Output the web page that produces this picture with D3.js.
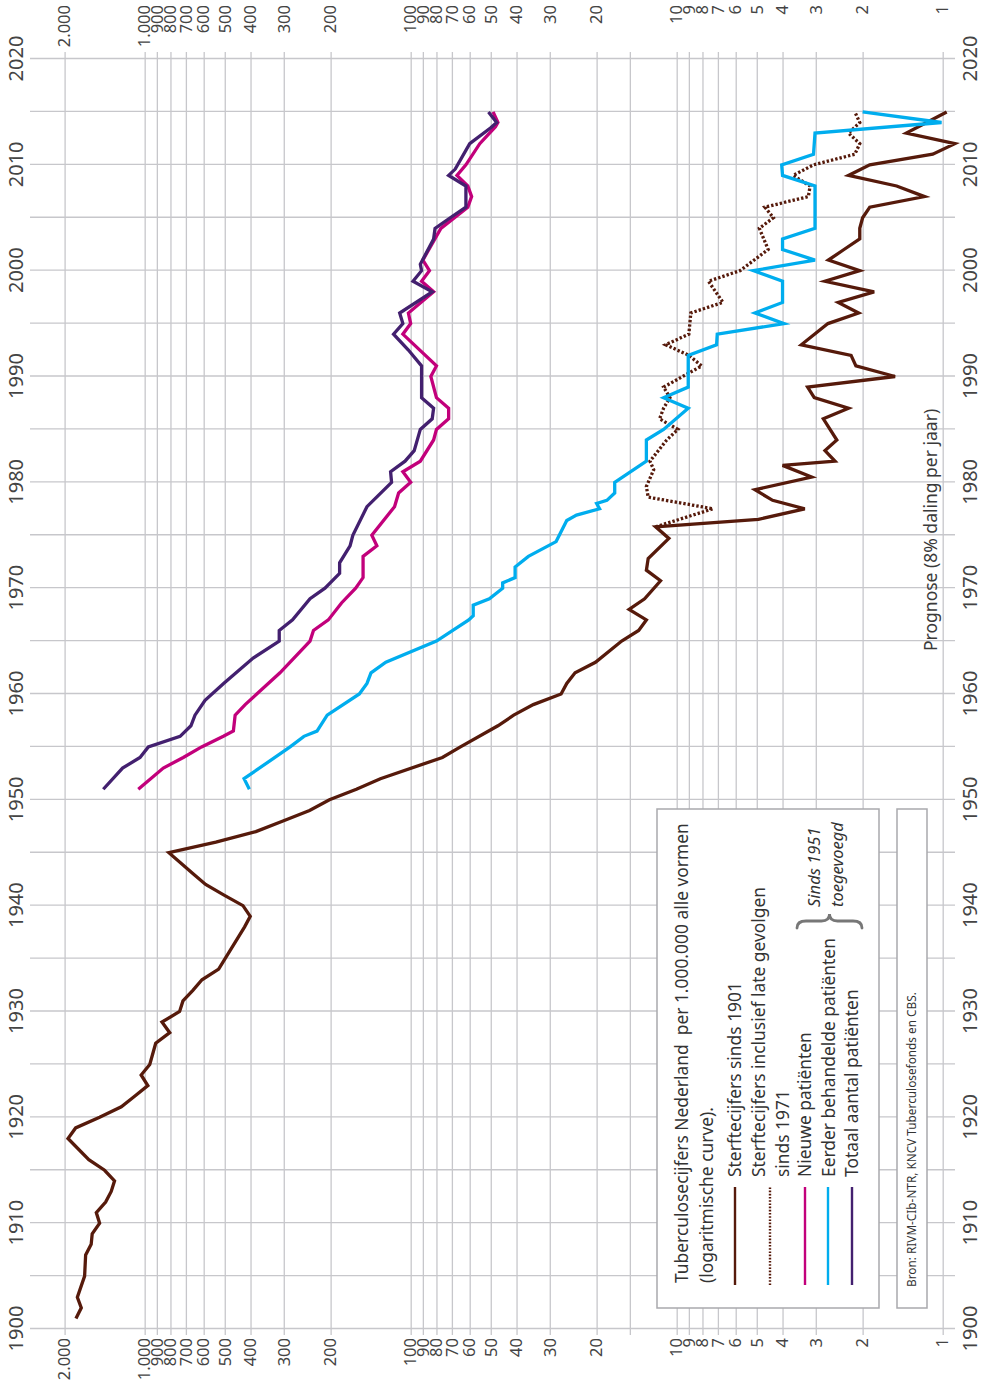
<!DOCTYPE html>
<html>
<head>
<meta charset="utf-8">
<script src="https://cdn.jsdelivr.net/npm/d3@7"></script>
<style>
  body { margin: 0; background: #fff; }
  svg { display: block; font-family: "Noto Sans", "Open Sans", sans-serif; }
</style>
</head>
<body>
<div id="chart"></div>
<script>
// ---- data (per 1.000.000) ----
var waardeTicks = [2000, 1000, 900, 800, 700, 600, 500, 400, 300, 200,
    100, 90, 80, 70, 60, 50, 40, 30, 20, 10, 9, 8, 7, 6, 5, 4, 3, 2, 1]
var extraLijnen = [15]
var jaarTicks = d3.range(1900, 2021, 10)
var jaarLijnen = d3.range(1900, 2021, 5)

// Sterftecijfers sinds 1901
var sterfte = [[1901, 1813], [1902, 1731], [1903, 1791], [1905, 1682], [1907, 1667], [1908, 1589],
    [1909, 1575], [1910, 1477], [1911, 1520], [1912, 1402], [1913, 1336], [1914, 1298], [1915, 1415],
    [1916, 1622], [1918, 1942], [1919, 1818], [1920, 1477], [1921, 1224], [1922, 1091], [1923, 973],
    [1924, 1031], [1925, 957], [1927, 909], [1928, 805], [1929, 861], [1930, 739], [1931, 718],
    [1932, 659], [1933, 609], [1934, 527], [1938, 421], [1939, 401], [1940, 427], [1941, 503],
    [1942, 590], [1943, 656], [1945, 811], [1946, 540], [1947, 382], [1948, 302], [1949, 240],
    [1950, 202], [1951, 160], [1952, 130], [1954, 76], [1955, 65], [1957, 47], [1958, 41],
    [1959, 34.6], [1960, 27.2], [1961, 25.9], [1962, 24.1], [1963, 20.2], [1965, 16.1], [1966, 13.9],
    [1967, 13.0], [1968, 15.1], [1969, 13.2], [1970.7, 11.5], [1971.7, 13.0], [1972.8, 12.8],
    [1974.7, 10.7], [1975.8, 12.0], [1976.5, 4.93], [1977.5, 3.30], [1978.3, 4.36], [1979.3, 5.08],
    [1980.5, 3.11], [1981.6, 4.0], [1982, 2.54], [1983, 2.77], [1984, 2.50], [1986, 2.81],
    [1987, 2.26], [1988, 3.04], [1989, 3.22], [1990, 1.51], [1991, 2.12], [1992, 2.21], [1993, 3.4],
    [1995, 2.7], [1996, 2.07], [1997, 2.47], [1998, 1.81], [1999, 2.77], [2000, 2.05], [2001, 2.69],
    [2002, 2.35], [2003, 2.05], [2004, 2.05], [2005, 2.0], [2006, 1.88], [2007, 1.17], [2008, 1.49],
    [2009, 2.26], [2010, 1.88], [2011, 1.09], [2012, 0.90], [2013, 1.37], [2015, 0.966]]

// Sterftecijfers inclusief late gevolgen
var sterfteLaat = [[1975.8, 12.0], [1977.5, 7.3], [1978.6, 12.8], [1979.6, 13.0], [1981.2, 12.2],
    [1982, 12.6], [1984, 10.9], [1985, 9.9], [1986, 11.6], [1987, 11.2], [1988, 10.6], [1989, 11.2],
    [1991, 8.05], [1992, 9.0], [1993, 11.0], [1994, 9.0], [1996, 8.85], [1997, 6.7], [1999, 7.6],
    [2000, 5.78], [2002, 4.53], [2004, 4.89], [2005, 4.33], [2006, 4.66], [2007, 3.2], [2008, 3.15],
    [2009, 3.65], [2010, 3.06], [2011, 2.14], [2012, 2.05], [2013, 2.26], [2014, 2.05], [2015, 2.14]]

// Nieuwe patiënten
var nieuwe = [[1951, 1057], [1953, 851], [1954, 716], [1955, 611], [1956, 506], [1956.5, 464],
    [1958, 457], [1959, 419], [1962, 310], [1965, 239], [1966, 232], [1967, 204], [1968.6, 182],
    [1970, 161], [1971, 151], [1973, 151], [1974, 134], [1975, 140], [1977.7, 115], [1979, 111],
    [1980, 100], [1981, 107], [1982, 92], [1984, 82], [1985, 80], [1986, 72], [1987, 72], [1988, 80],
    [1990, 84], [1991, 80], [1994, 107], [1995, 100], [1996, 102], [1998, 82], [1999, 91], [2000, 85],
    [2001, 90], [2004, 77], [2006, 61], [2007, 59], [2008, 61], [2009, 67], [2010, 62], [2012, 55],
    [2013.6, 48], [2014, 47], [2015, 49]]

// Eerder behandelde patiënten
var eerder = [[1951, 404], [1952, 423], [1955, 284], [1956, 252], [1956.5, 225], [1958, 206],
    [1960, 156], [1961, 146], [1962, 141], [1963, 124], [1965, 80], [1967, 60.5], [1967.4, 58.2],
    [1968.4, 58.2], [1969, 50.6], [1970, 45.1], [1970.5, 45.1], [1971, 40.5], [1972, 40.5],
    [1973, 36.1], [1974.4, 28.4], [1976.4, 25.9], [1976.9, 23.8], [1977.5, 19.5], [1978, 20],
    [1978.3, 18.3], [1979, 17.1], [1980, 17.1], [1982, 13.0], [1984, 13.0], [1985, 11.2], [1987, 9.05],
    [1988, 11.2], [1989, 9.05], [1992, 9.05], [1993, 7.08], [1994, 7.04], [1995, 3.95], [1996, 5.08],
    [1997, 4.0], [1999, 4.0], [2000, 5.15], [2001, 3.02], [2002, 4.0], [2003, 4.0], [2004, 3.02],
    [2008, 3.02], [2009, 4.0], [2010, 4.03], [2011, 3.06], [2013, 3.02], [2014, 1.01], [2015, 2.0]]

// Totaal aantal patiënten
var totaal = [[1951, 1431], [1953, 1211], [1954, 1041], [1955, 969], [1956, 736], [1957, 670],
    [1958, 647], [1959.4, 593], [1961, 505], [1963.4, 391], [1965, 312], [1966, 312], [1967, 278],
    [1969, 239], [1970, 210], [1971.4, 185], [1972.4, 185], [1974, 169], [1975, 165], [1977.7, 146],
    [1980, 118], [1981, 119], [1982, 105], [1983, 97], [1985, 92], [1986, 83], [1987, 82], [1988, 91],
    [1991, 91], [1992.5, 102], [1994, 116], [1995, 107], [1996, 110], [1998, 83], [1999, 98],
    [2000, 91], [2000.6, 92], [2003, 82], [2004, 81], [2005, 71], [2006, 62], [2008, 62], [2009, 72],
    [2009.6, 68], [2012, 60], [2013.5, 50], [2014, 47.5], [2015, 51]]

var legendaTitel = ["Tuberculosecijfers Nederland  per 1.000.000 alle vormen", "(logaritmische curve)."]
var legendaTekst = ["Sterftecijfers sinds 1901", "Sterftecijfers inclusief late gevolgen", "sinds 1971",
    "Nieuwe patiënten", "Eerder behandelde patiënten", "Totaal aantal patiënten"]
var bron = "Bron: RIVM-CIb-NTR, KNCV Tuberculosefonds en CBS."
var prognose = "Prognose (8% daling per jaar)"

// ---- drawing ----
var W = 987, H = 1392
var kleur = { bruin: "#561a0b", magenta: "#c2007b", cyaan: "#00adee", paars: "#43206f" }

var svg = d3.select("#chart").append("svg")
    .attr("width", W)
    .attr("height", H)

// the chart is an ordinary year/value chart turned a quarter counter-clockwise
var g = svg.append("g")
    .attr("transform", "translate(0," + H + ") rotate(-90)")

var x = d3.scaleLinear().domain([1900, 2020]).range([63, 1333])
var y = d3.scaleLog().domain([1, 2000]).range([942.7, 64.6])

var nlFormat = function(d) { return d3.format(",")(d).replace(/,/g, ".") }

// value gridlines
g.append("g")
    .attr("class", "grid")
    .attr("transform", "translate(57,0)")
    .call(d3.axisRight(y).tickValues(waardeTicks.concat(extraLijnen)).tickSize(1283).tickFormat(""))

// year gridlines
g.append("g")
    .attr("class", "grid")
    .attr("transform", "translate(0,30)")
    .call(d3.axisBottom(x).tickValues(jaarLijnen).tickSize(925).tickFormat(""))

g.selectAll(".grid .domain").remove()
g.selectAll(".grid line")
    .attr("stroke", "#c7c7cb")
    .attr("stroke-width", 1.3)

// value labels on both ends
var waardeAs = d3.axisLeft(y).tickValues(waardeTicks).tickSize(0).tickPadding(0).tickFormat(nlFormat)
g.append("g").attr("class", "lab").attr("transform", "translate(54,0)").call(waardeAs)
g.append("g").attr("class", "lab").attr("transform", "translate(1387,0)").call(waardeAs)

// year labels on both sides
var jaarAs = d3.axisBottom(x).tickValues(jaarTicks).tickSize(0).tickPadding(0).tickFormat(d3.format("d"))
g.append("g").attr("class", "lab jaar").attr("transform", "translate(0,9)").call(jaarAs)
g.append("g").attr("class", "lab jaar").attr("transform", "translate(0,963)").call(jaarAs)

g.selectAll(".lab .domain").remove()
g.selectAll(".lab text")
    .attr("fill", "#444")
    .style("font-family", "'Noto Sans', sans-serif")
    .style("font-size", "16.5px")
g.selectAll(".jaar text").style("font-size", "20px")

// series
var lijn = d3.line()
    .x(function(d) { return x(d[0]) })
    .y(function(d) { return y(d[1]) })

var series = [
    { data: sterfte, kleur: kleur.bruin, dash: null },
    { data: sterfteLaat, kleur: kleur.bruin, dash: "2.4,2" },
    { data: eerder, kleur: kleur.cyaan, dash: null },
    { data: nieuwe, kleur: kleur.magenta, dash: null },
    { data: totaal, kleur: kleur.paars, dash: null }
]

g.selectAll(".serie")
    .data(series)
    .enter()
    .append("path")
    .attr("class", "serie")
    .attr("d", function(d) { return lijn(d.data) })
    .attr("fill", "none")
    .attr("stroke", function(d) { return d.kleur })
    .attr("stroke-width", 3.3)
    .attr("stroke-dasharray", function(d) { return d.dash })

g.append("text")
    .attr("x", 741)
    .attr("y", 931)
    .attr("dy", "0.35em")
    .attr("fill", "#3a3a3a")
    .style("font-size", "17.5px")
    .text(prognose)

// legend
var leg = g.append("g")
leg.append("rect")
    .attr("x", 84).attr("y", 657)
    .attr("width", 499).attr("height", 222)
    .attr("fill", "#fff")
    .attr("stroke", "#a9a9ad")
    .attr("stroke-width", 1.5)

leg.selectAll(".titel")
    .data(legendaTitel)
    .enter()
    .append("text")
    .attr("x", 109)
    .attr("y", function(d, i) { return 682 + i * 25 })
    .attr("dy", "0.35em")
    .attr("fill", "#333")
    .style("font-size", "17.4px")
    .style("white-space", "pre")
    .text(function(d) { return d })

leg.selectAll(".item")
    .data(legendaTekst)
    .enter()
    .append("text")
    .attr("x", 215)
    .attr("y", function(d, i) { return [735, 759, 783, 805, 829, 852][i] })
    .attr("dy", "0.35em")
    .attr("fill", "#333")
    .style("font-size", "17.4px")
    .text(function(d) { return d })

var stalen = [
    { y: 735, kleur: kleur.bruin, dash: null },
    { y: 770, kleur: kleur.bruin, dash: "1.6,1.6" },
    { y: 805, kleur: kleur.magenta, dash: null },
    { y: 828, kleur: kleur.cyaan, dash: null },
    { y: 852, kleur: kleur.paars, dash: null }
]
leg.selectAll(".staal")
    .data(stalen)
    .enter()
    .append("line")
    .attr("x1", 107).attr("x2", 205)
    .attr("y1", function(d) { return d.y })
    .attr("y2", function(d) { return d.y })
    .attr("stroke", function(d) { return d.kleur })
    .attr("stroke-width", 2.4)
    .attr("stroke-dasharray", function(d) { return d.dash })

// brace + "Sinds 1951 toegevoegd"
var bx = 464, y1 = 797, y2 = 862, ym = (y1 + y2) / 2
leg.append("path")
    .attr("d", "M" + bx + "," + y1 + " Q" + (bx + 7) + "," + y1 + " " + (bx + 7) + "," + (y1 + 9) +
        " L" + (bx + 7) + "," + (ym - 8) + " Q" + (bx + 7) + "," + ym + " " + (bx + 14) + "," + ym +
        " Q" + (bx + 7) + "," + ym + " " + (bx + 7) + "," + (ym + 8) +
        " L" + (bx + 7) + "," + (y2 - 9) + " Q" + (bx + 7) + "," + y2 + " " + bx + "," + y2)
    .attr("fill", "none")
    .attr("stroke", "#777")
    .attr("stroke-width", 2.8)
    .attr("stroke-linecap", "round")

leg.selectAll(".toe")
    .data(["Sinds 1951", "toegevoegd"])
    .enter()
    .append("text")
    .attr("x", 485)
    .attr("y", function(d, i) { return [814, 837][i] })
    .attr("dy", "0.35em")
    .attr("fill", "#333")
    .style("font-size", "16.5px")
    .style("font-style", "italic")
    .text(function(d) { return d })

// source box
g.append("rect")
    .attr("x", 84).attr("y", 897)
    .attr("width", 499).attr("height", 30)
    .attr("fill", "#fff")
    .attr("stroke", "#a9a9ad")
    .attr("stroke-width", 1.5)
g.append("text")
    .attr("x", 105).attr("y", 912)
    .attr("dy", "0.35em")
    .attr("fill", "#333")
    .style("font-size", "11.8px")
    .text(bron)
</script>
</body>
</html>
